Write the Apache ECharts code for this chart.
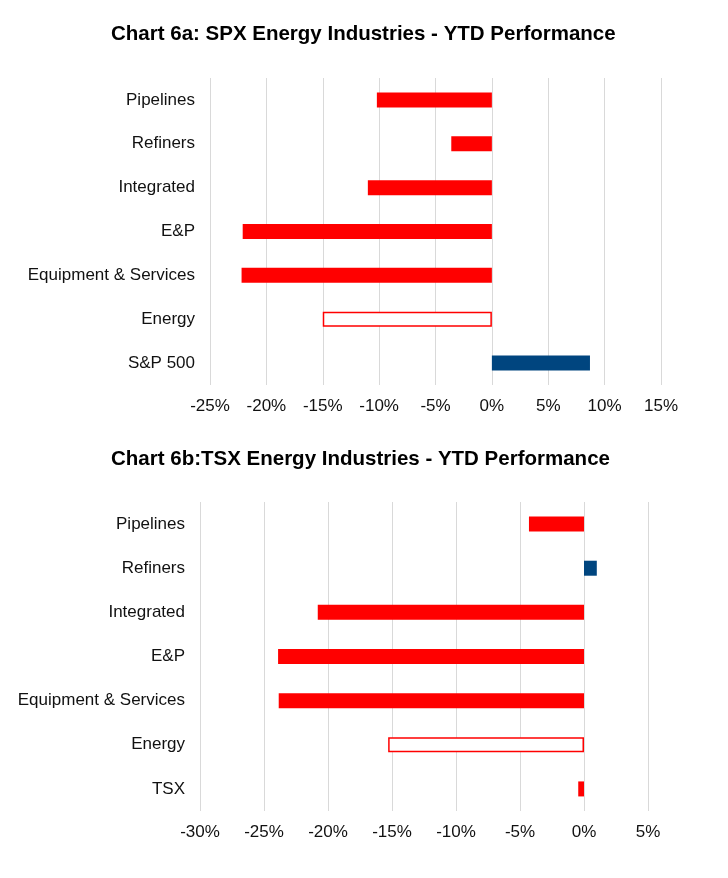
<!DOCTYPE html>
<html>
<head>
<meta charset="utf-8">
<script src="https://cdn.jsdelivr.net/npm/echarts@6/dist/echarts.min.js"></script>
<style>
html,body{margin:0;padding:0;background:#fff;}
#c{width:728px;height:878px;}
</style>
</head>
<body>
<div id="c"></div>
<script>
var titleA = 'Chart 6a: SPX Energy Industries - YTD Performance';
var titleB = 'Chart 6b:TSX Energy Industries - YTD Performance';
var categoriesA = ['Pipelines', 'Refiners', 'Integrated', 'E&P', 'Equipment & Services', 'Energy', 'S&P 500'];
var valuesA = [-10.2, -3.6, -11.0, -22.1, -22.2, -15.0, 8.7];
var categoriesB = ['Pipelines', 'Refiners', 'Integrated', 'E&P', 'Equipment & Services', 'Energy', 'TSX'];
var valuesB = [-4.3, 1.0, -20.8, -23.9, -23.85, -15.3, -0.45];
var hollowCategory = 'Energy';
var xRangeA = {min: -25, max: 15, interval: 5};
var xRangeB = {min: -30, max: 5, interval: 5};

var RED = '#ff0000', BLUE = '#00457f', FONT = '"Liberation Sans", Arial, Helvetica, sans-serif';

function buildData(cats, vals) {
  return vals.map(function (v, i) {
    if (cats[i] === hollowCategory) {
      return {value: v, itemStyle: {color: '#ffffff', borderColor: RED, borderWidth: 1.5}};
    }
    return {value: v, itemStyle: {color: v >= 0 ? BLUE : RED}};
  });
}

function xAxis(idx, r) {
  return {
    type: 'value', gridIndex: idx, min: r.min, max: r.max, interval: r.interval,
    axisLine: {show: false}, axisTick: {show: false},
    splitLine: {show: true, lineStyle: {color: '#d9d9d9', width: 1}},
    axisLabel: {formatter: '{value}%', fontSize: 17, color: '#111', fontFamily: FONT, margin: 13}
  };
}
function yAxis(idx, cats) {
  return {
    type: 'category', gridIndex: idx, data: cats, inverse: true,
    axisLine: {show: false}, axisTick: {show: false}, splitLine: {show: false},
    axisLabel: {fontSize: 17, color: '#111', fontFamily: FONT, margin: 15}
  };
}

var chart = echarts.init(document.getElementById('c'), null, {renderer: 'canvas'});
chart.setOption({
  backgroundColor: '#ffffff',
  animation: false,
  title: [
    {text: titleA, left: 106, top: 19, textStyle: {fontSize: 20.5, fontWeight: 'bold', color: '#000', fontFamily: FONT}},
    {text: titleB, left: 106, top: 444, textStyle: {fontSize: 20.5, fontWeight: 'bold', color: '#000', fontFamily: FONT}}
  ],
  grid: [
    {left: 210, top: 78, width: 451, height: 307, containLabel: false},
    {left: 200, top: 502, width: 448, height: 309, containLabel: false}
  ],
  xAxis: [xAxis(0, xRangeA), xAxis(1, xRangeB)],
  yAxis: [yAxis(0, categoriesA), yAxis(1, categoriesB)],
  series: [
    {type: 'bar', xAxisIndex: 0, yAxisIndex: 0, barWidth: 15, data: buildData(categoriesA, valuesA)},
    {type: 'bar', xAxisIndex: 1, yAxisIndex: 1, barWidth: 15, data: buildData(categoriesB, valuesB)}
  ]
});
</script>
</body>
</html>
